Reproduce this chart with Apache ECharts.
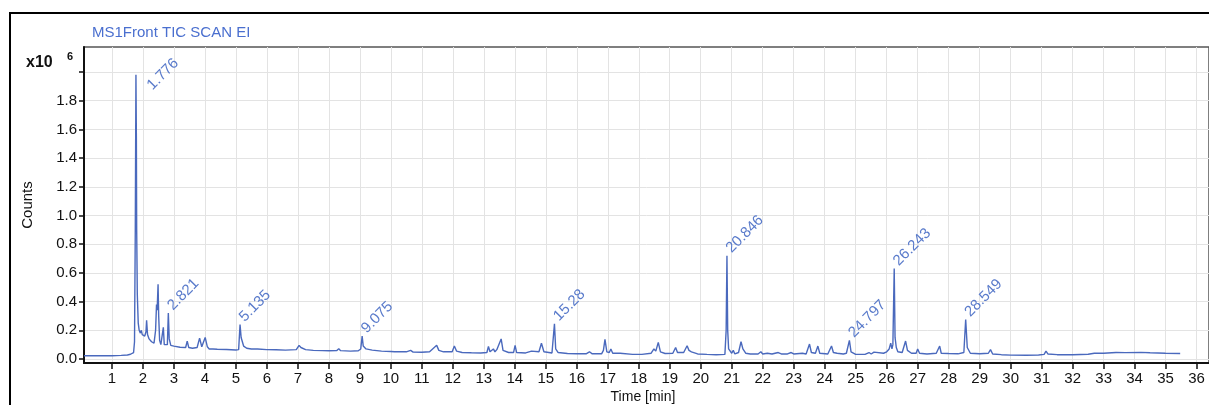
<!DOCTYPE html>
<html><head><meta charset="utf-8">
<script src="https://cdn.jsdelivr.net/npm/echarts@6/dist/echarts.min.js"></script>
<style>html,body{margin:0;padding:0;background:#fff}#c{width:1209px;height:405px}</style>
</head><body><div id="c"></div>
<script>
// TIC chromatogram: [time (min), counts (x10^6)]
const tic = [
[0.10,0.022],[0.5,0.022],[1.0,0.023],[1.3,0.025],[1.5,0.028],[1.6,0.033],[1.66,0.04],[1.7,0.045],[1.73,0.12],[1.755,0.9],[1.776,1.98],[1.79,1.55],[1.80,0.9],[1.82,0.45],[1.85,0.25],[1.88,0.2],[1.92,0.18],[1.95,0.2],[1.98,0.17],[2.02,0.18],[2.06,0.16],[2.1,0.19],[2.12,0.27],[2.15,0.17],[2.2,0.14],[2.28,0.12],[2.36,0.11],[2.41,0.2],[2.44,0.38],[2.46,0.34],[2.49,0.52],[2.51,0.3],[2.54,0.13],[2.58,0.1],[2.62,0.1],[2.66,0.22],[2.69,0.1],[2.74,0.095],[2.79,0.1],[2.821,0.32],[2.85,0.14],[2.9,0.095],[3.0,0.09],[3.2,0.082],[3.38,0.08],[3.43,0.125],[3.48,0.08],[3.6,0.075],[3.75,0.08],[3.83,0.145],[3.9,0.085],[3.93,0.08],[4.01,0.15],[4.08,0.085],[4.14,0.07],[4.2,0.08],[4.26,0.07],[4.4,0.068],[4.7,0.066],[5.0,0.063],[5.09,0.065],[5.135,0.24],[5.17,0.15],[5.2,0.16],[5.25,0.09],[5.35,0.075],[5.5,0.07],[5.6,0.07],[5.65,0.08],[5.7,0.07],[6.0,0.065],[6.3,0.064],[6.6,0.062],[6.95,0.065],[7.04,0.095],[7.1,0.08],[7.16,0.085],[7.25,0.065],[7.5,0.06],[7.8,0.058],[8.0,0.057],[8.25,0.058],[8.32,0.072],[8.38,0.058],[8.7,0.055],[8.95,0.057],[9.03,0.07],[9.075,0.16],[9.11,0.09],[9.2,0.07],[9.4,0.062],[9.7,0.055],[10.0,0.052],[10.06,0.062],[10.12,0.05],[10.5,0.05],[10.64,0.06],[10.72,0.048],[11.0,0.047],[11.25,0.05],[11.34,0.068],[11.4,0.058],[11.48,0.095],[11.55,0.06],[11.7,0.05],[11.98,0.05],[12.05,0.09],[12.12,0.055],[12.3,0.045],[12.6,0.043],[12.9,0.042],[13.1,0.045],[13.15,0.088],[13.2,0.05],[13.31,0.07],[13.36,0.05],[13.42,0.065],[13.48,0.06],[13.56,0.14],[13.62,0.06],[13.8,0.045],[13.96,0.045],[14.01,0.095],[14.06,0.045],[14.35,0.042],[14.54,0.055],[14.6,0.045],[14.78,0.05],[14.86,0.11],[14.94,0.05],[15.2,0.042],[15.28,0.245],[15.32,0.07],[15.4,0.045],[15.7,0.038],[16.0,0.036],[16.3,0.036],[16.41,0.05],[16.5,0.036],[16.8,0.036],[16.86,0.06],[16.91,0.137],[16.97,0.05],[17.05,0.045],[17.1,0.07],[17.16,0.04],[17.4,0.04],[17.8,0.032],[18.1,0.032],[18.4,0.04],[18.49,0.07],[18.55,0.055],[18.63,0.116],[18.7,0.05],[18.85,0.038],[19.1,0.04],[19.19,0.08],[19.25,0.045],[19.45,0.045],[19.56,0.092],[19.62,0.06],[19.7,0.05],[19.9,0.035],[20.2,0.032],[20.5,0.03],[20.78,0.032],[20.82,0.2],[20.846,0.72],[20.87,0.2],[20.9,0.07],[20.95,0.06],[21.0,0.04],[21.05,0.06],[21.1,0.035],[21.22,0.045],[21.3,0.12],[21.36,0.07],[21.45,0.04],[21.6,0.035],[21.85,0.035],[21.94,0.05],[22.0,0.035],[22.15,0.04],[22.3,0.035],[22.5,0.045],[22.6,0.035],[22.8,0.035],[22.92,0.045],[23.0,0.035],[23.28,0.04],[23.4,0.035],[23.51,0.104],[23.57,0.045],[23.7,0.04],[23.78,0.09],[23.84,0.04],[24.1,0.035],[24.22,0.09],[24.28,0.045],[24.4,0.04],[24.6,0.035],[24.7,0.04],[24.797,0.13],[24.85,0.05],[25.0,0.032],[25.3,0.032],[25.43,0.045],[25.5,0.035],[25.59,0.048],[25.65,0.035],[25.9,0.04],[26.0,0.05],[26.08,0.07],[26.13,0.11],[26.17,0.07],[26.2,0.1],[26.243,0.63],[26.27,0.15],[26.31,0.08],[26.36,0.05],[26.5,0.045],[26.61,0.125],[26.67,0.06],[26.8,0.04],[26.95,0.04],[27.0,0.07],[27.06,0.04],[27.3,0.035],[27.6,0.04],[27.71,0.09],[27.76,0.04],[28.0,0.038],[28.3,0.036],[28.49,0.045],[28.549,0.275],[28.6,0.08],[28.7,0.04],[29.0,0.036],[29.28,0.04],[29.35,0.065],[29.42,0.035],[29.7,0.03],[30.0,0.027],[30.5,0.026],[30.9,0.028],[31.08,0.032],[31.14,0.055],[31.2,0.035],[31.5,0.03],[32.0,0.03],[32.5,0.033],[32.7,0.04],[33.0,0.04],[33.4,0.045],[33.7,0.044],[34.2,0.046],[34.5,0.043],[35.0,0.04],[35.47,0.038]
];
const peakTimes   = [1.776, 2.821, 5.135, 9.075, 15.28, 20.846, 24.797, 26.243, 28.549];
const peakHeights = [1.98, 0.32, 0.24, 0.16, 0.245, 0.72, 0.13, 0.63, 0.275];
const peakLabels  = ['1.776','2.821','5.135','9.075','15.28','20.846','24.797','26.243','28.549'];
const xTickValues = [1,2,3,4,5,6,7,8,9,10,11,12,13,14,15,16,17,18,19,20,21,22,23,24,25,26,27,28,29,30,31,32,33,34,35,36];
const yTickValues = [0,0.2,0.4,0.6,0.8,1.0,1.2,1.4,1.6,1.8,2.0];
const yLabelValues = [0,0.2,0.4,0.6,0.8,1.0,1.2,1.4,1.6,1.8];
const titleText = 'MS1Front TIC SCAN EI';
const yName = 'Counts';
const xName = 'Time [min]';

const FONT = '"Liberation Sans", Arial, sans-serif';
const BLUE = '#4a69bd';
const LBLUE = '#5a7bcb';

const chart = echarts.init(document.getElementById('c'), null, {renderer: 'canvas'});
chart.setOption({
  animation: false,
  backgroundColor: '#fff',
  grid: {left: 84, top: 47, width: 1133, height: 316, show: true, borderColor: '#555', borderWidth: 1.5, backgroundColor: 'transparent'},
  xAxis: {
    type: 'value', min: 0.1, max: 36.4,
    axisLine: {show: true, onZero: false, lineStyle: {color: '#111', width: 2}},
    axisTick: {show: true, length: 6, customValues: xTickValues, lineStyle: {color: '#111', width: 1.5}},
    axisLabel: {customValues: xTickValues, margin: 8, fontFamily: FONT, fontSize: 15, color: '#111', formatter: v => String(Math.round(v))},
    splitLine: {show: true, lineStyle: {color: '#e3e3e3', width: 1}}
  },
  yAxis: {
    type: 'value', min: -0.028, max: 2.174,
    axisLine: {show: true, onZero: false, lineStyle: {color: '#111', width: 2}},
    axisTick: {show: true, length: 5, customValues: yTickValues, lineStyle: {color: '#111', width: 1.5}},
    axisLabel: {customValues: yLabelValues, margin: 7, fontFamily: FONT, fontSize: 15, color: '#111', formatter: v => v.toFixed(1)},
    splitLine: {show: true, lineStyle: {color: '#e3e3e3', width: 1}}
  },
  series: [
    {
      type: 'line', data: tic, showSymbol: false, symbol: 'none', silent: true,
      lineStyle: {color: BLUE, width: 1.4}, z: 3
    }
  ],
  graphic: [
    {id: 'frame', type: 'rect', shape: {x: 10, y: 13, width: 1400, height: 600}, style: {fill: 'none', stroke: '#000', lineWidth: 2}, silent: true},
    {id: 'title', type: 'text', x: 92, y: 33, style: {text: titleText, font: '15px ' + FONT, fill: '#4a6fcf', textVerticalAlign: 'middle'}},
    {id: 'mult', type: 'text', x: 26, y: 63, style: {text: 'x10', font: 'bold 16px ' + FONT, fill: '#111', textVerticalAlign: 'middle'}},
    {id: 'exp', type: 'text', x: 67, y: 57, style: {text: '6', font: 'bold 11px ' + FONT, fill: '#111', textVerticalAlign: 'middle'}},
    {id: 'yname', type: 'text', x: 28, y: 205, rotation: Math.PI / 2, style: {text: yName, font: '15px ' + FONT, fill: '#111', textAlign: 'center', textVerticalAlign: 'middle'}},
    {id: 'xname', type: 'text', x: 643, y: 397, style: {text: xName, font: '14px ' + FONT, fill: '#111', textAlign: 'center', textVerticalAlign: 'middle'}}
  ]
});
// Peak labels positioned through the chart's own scales
const labelEls = peakTimes.map((t, i) => {
  const p = chart.convertToPixel({gridIndex: 0}, [t, peakHeights[i]]);
  const off = i === 0 ? [19, 18] : [7, 0];
  return {
    id: 'pk' + i, type: 'text', x: p[0] + off[0], y: p[1] + off[1], rotation: Math.PI / 4, silent: true, z: 10,
    style: {text: peakLabels[i], font: '15px ' + FONT, fill: LBLUE, textAlign: 'left', textVerticalAlign: 'bottom'}
  };
});
chart.setOption({graphic: labelEls});
</script></body></html>
